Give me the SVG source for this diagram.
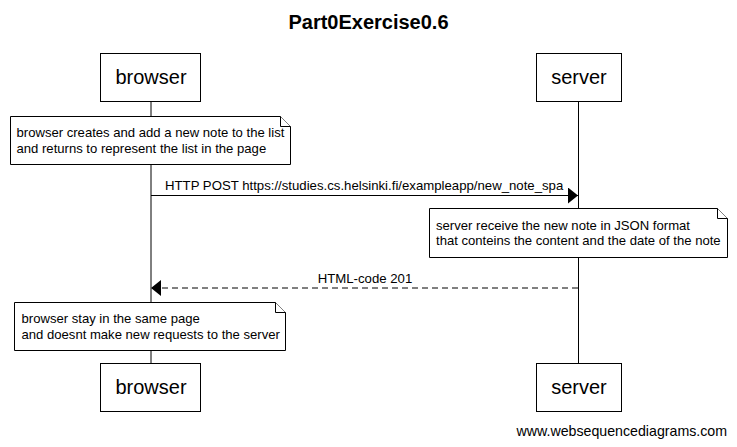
<svg xmlns="http://www.w3.org/2000/svg" width="737" height="447" viewBox="0 0 737 447">
<style>
text{font-family:"Liberation Sans",Arial,sans-serif;fill:#000}
.title{font-size:20px;font-weight:bold}
.actor{font-size:20px}
.small{font-size:13.1px}
.lbl{font-size:13.2px}
.wm{font-size:14.2px}
.box{fill:#fff;stroke:#000;stroke-width:1}
.life{stroke:#000;stroke-width:1}
.msg{stroke:#000;stroke-width:1;fill:none}
.dash{stroke-dasharray:6,4}
.fold{fill:#fff;stroke:#000;stroke-width:1}
</style>
<defs>
<marker id="ah" markerWidth="10" markerHeight="16" refX="10" refY="8" orient="auto" markerUnits="userSpaceOnUse">
<path d="M0,0 L10,8 L0,16 Z" fill="#000"/>
</marker>
</defs>
<rect width="737" height="447" fill="#fff"/>
<text class="title" x="368.5" y="29" text-anchor="middle">Part0Exercise0.6</text>
<g id="lifelines">
<line class="life" x1="151" y1="101" x2="151" y2="363"/>
<line class="life" x1="578.5" y1="101" x2="578.5" y2="363"/>
</g>
<g id="browser">
<rect class="box" x="100.5" y="53.5" width="100" height="48"/>
<text class="actor" x="151" y="84" text-anchor="middle">browser</text>
<rect class="box" x="100.5" y="363.5" width="100" height="48"/>
<text class="actor" x="151" y="394" text-anchor="middle">browser</text>
</g>
<g id="server">
<rect class="box" x="536.5" y="53.5" width="85" height="48"/>
<text class="actor" x="579" y="84" text-anchor="middle">server</text>
<rect class="box" x="536.5" y="363.5" width="85" height="48"/>
<text class="actor" x="579" y="394" text-anchor="middle">server</text>
</g>
<g id="connectors">
<line class="msg" x1="151" y1="195.5" x2="578" y2="195.5" marker-end="url(#ah)"/>
<text class="lbl" x="165" y="190">HTTP POST https://studies.cs.helsinki.fi/exampleapp/new_note_spa</text>
<line class="msg dash" x1="578" y1="288" x2="151" y2="288" marker-end="url(#ah)"/>
<text class="lbl" x="365" y="283" text-anchor="middle">HTML-code 201</text>
</g>
<g id="note1">
<path class="box" d="M10.5,116.5 H280.5 L290.5,126.5 V164.5 H10.5 Z"/>
<path class="fold" d="M280.5,116.5 V126.5 H290.5"/>
<text class="small" x="16.5" y="137">browser creates and add a new note to the list</text>
<text class="small" x="16.5" y="153">and returns to represent the list in the page</text>
</g>
<g id="note2">
<path class="box" d="M429.5,208.5 H717.5 L727.5,218.5 V257.5 H429.5 Z"/>
<path class="fold" d="M717.5,208.5 V218.5 H727.5"/>
<text class="small" x="436" y="229.5">server receive the new note in JSON format</text>
<text class="small" x="436" y="245">that conteins the content and the date of the note</text>
</g>
<g id="note3">
<path class="box" d="M14.5,302.5 H275.5 L285.5,312.5 V350.5 H14.5 Z"/>
<path class="fold" d="M275.5,302.5 V312.5 H285.5"/>
<text class="small" x="21.5" y="323">browser stay in the same page</text>
<text class="small" x="21.5" y="339">and doesnt make new requests to the server</text>
</g>
<text class="wm" x="516.5" y="436">www.websequencediagrams.com</text>
</svg>
